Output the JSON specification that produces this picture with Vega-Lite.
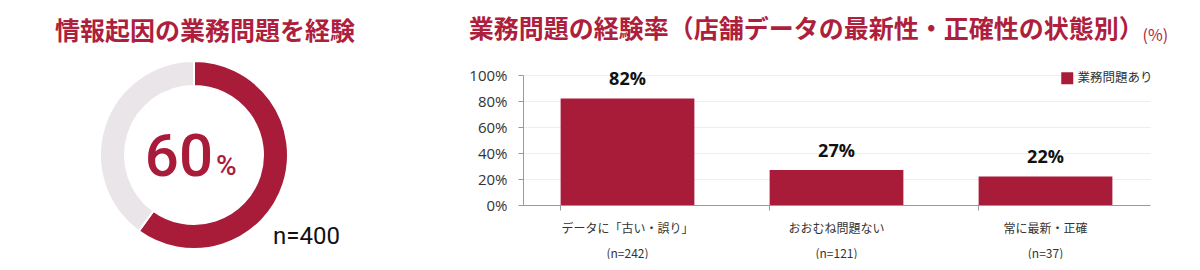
{
  "$schema": "https://vega.github.io/schema/vega-lite/v6.json",
  "padding": {"left": 0, "top": 18, "right": 0, "bottom": 0},
  "background": "white",
  "bounds": "flush",
  "spacing": 135,
  "resolve": {"scale": {"color": "independent"}, "legend": {"color": "independent"}},
  "config": {"view": {"stroke": null}, "font": "Noto Sans CJK JP"},
  "hconcat": [
    {
      "width": 388,
      "height": 160,
      "title": {"text": "情報起因の業務問題を経験", "anchor": "start", "dx": 55, "fontSize": 25, "fontWeight": "bold", "color": "#ae1f3e", "font": "Noto Sans CJK JP", "offset": 12},
      "layer": [
        {
          "data": {"values": [{"part": "あり", "value": 60, "order": 1}, {"part": "なし", "value": 40, "order": 2}]},
          "mark": {"type": "arc", "outerRadius": 94, "innerRadius": 69, "stroke": "white", "strokeWidth": 2},
          "encoding": {
            "theta": {"field": "value", "type": "quantitative", "stack": true},
            "order": {"field": "order"},
            "color": {"field": "part", "type": "nominal", "scale": {"domain": ["あり", "なし"], "range": ["#a81c3a", "#e9e5e9"]}, "legend": null}
          }
        },
        {
          "data": {"values": [{"pct": "60", "unit": "%", "n": "n=400"}]},
          "mark": {"type": "text", "font": "Roboto", "fontSize": 60, "fontWeight": 500, "color": "#a81c3a", "align": "right", "baseline": "alphabetic", "dx": 19, "dy": 21},
          "encoding": {"text": {"field": "pct"}}
        },
        {
          "data": {"values": [{"pct": "60", "unit": "%", "n": "n=400"}]},
          "mark": {"type": "text", "font": "Roboto", "fontSize": 28, "fontWeight": 500, "color": "#a81c3a", "align": "left", "baseline": "alphabetic", "dx": 22, "dy": 20},
          "encoding": {"text": {"field": "unit"}}
        },
        {
          "data": {"values": [{"pct": "60", "unit": "%", "n": "n=400"}]},
          "mark": {"type": "text", "font": "Roboto", "fontSize": 24, "color": "#111111", "align": "left", "baseline": "alphabetic", "dx": 79, "dy": 89},
          "encoding": {"text": {"field": "n"}}
        }
      ]
    },
    {
      "width": 627,
      "height": 130,
      "title": {"text": "業務問題の経験率（店舗データの最新性・正確性の状態別）", "anchor": "start", "dx": 0, "fontSize": 25, "fontWeight": "bold", "color": "#ae1f3e", "font": "Noto Sans CJK JP", "offset": -16},
      "data": {
        "values": [
          {"category": "データに「古い・誤り」|(n=242)", "value": 82, "label": "82%", "series": "業務問題あり"},
          {"category": "おおむね問題ない|(n=121)", "value": 27, "label": "27%", "series": "業務問題あり"},
          {"category": "常に最新・正確|(n=37)", "value": 22, "label": "22%", "series": "業務問題あり"}
        ]
      },
      "encoding": {
        "x": {
          "field": "category", "type": "nominal", "sort": null,
          "scale": {"paddingInner": 0.36, "paddingOuter": 0.18},
          "axis": {"title": null, "labelAngle": 0, "labelExpr": "split(datum.value, '|')", "labelFontSize": 12, "labelColor": "#333333", "labelLineHeight": 25, "labelPadding": 13, "labelBaseline": "top", "labelFont": "Noto Sans CJK JP", "domainColor": "#999999", "tickColor": "#999999", "tickSize": 5, "bandPosition": 0}
        },
        "y": {
          "field": "value", "type": "quantitative",
          "scale": {"domain": [0, 100]},
          "axis": {"values": [0, 20, 40, 60, 80, 100], "labelExpr": "datum.value + '%'", "labelFont": "Open Sans", "labelFontSize": 15, "labelColor": "#333333", "labelPadding": 11, "tickSize": 5, "tickColor": "#999999", "domainColor": "#999999", "gridColor": "#eeeeee",
                   "title": "(%)", "titleAngle": 0, "titleX": 619, "titleY": -40, "titleAlign": "left", "titleBaseline": "middle", "titleFontSize": 16, "titleFontWeight": "normal", "titleColor": "#ae1f3e", "titleFont": "Noto Sans CJK JP"}
        }
      },
      "layer": [
        {
          "mark": {"type": "bar"},
          "encoding": {
            "color": {"field": "series", "type": "nominal", "scale": {"range": ["#a81c3a"]},
                      "legend": {"orient": "none", "legendX": 538, "legendY": -3, "title": null, "symbolType": "square", "symbolSize": 144, "symbolStrokeWidth": 0, "labelFontSize": 12.5, "labelColor": "#333333", "labelFont": "Noto Sans CJK JP"}}
          }
        },
        {
          "mark": {"type": "text", "font": "Open Sans", "fontSize": 18, "fontWeight": "bold", "color": "#111111", "baseline": "alphabetic", "dy": -13},
          "encoding": {"text": {"field": "label"}}
        }
      ]
    }
  ]
}
